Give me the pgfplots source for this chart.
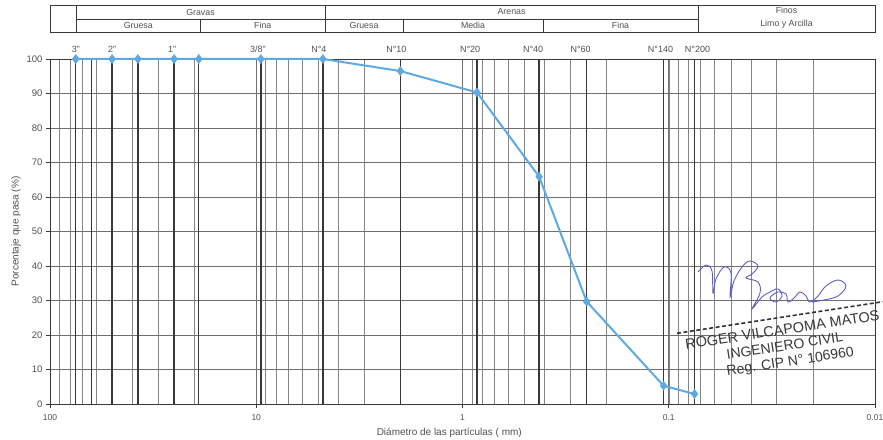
\documentclass[border=0pt]{standalone}
\usepackage{fontspec}
\setmainfont{Liberation Sans}
\usepackage{pgfplots}
\pgfplotsset{compat=1.18}
\definecolor{curve}{HTML}{5DA9E2}
\definecolor{grd}{HTML}{707070}
\definecolor{bold}{HTML}{383838}
\definecolor{txt}{HTML}{505050}
\definecolor{ink}{HTML}{5A5FC8}
\begin{document}
\begin{tikzpicture}[x=1pt,y=1pt]
\useasboundingbox (0,0) rectangle (883,439);
\begin{axis}[
  at={(50pt,35pt)}, anchor=south west,
  scale only axis, width=825pt, height=345pt,
  xmode=log, x dir=reverse, xmin=0.01, xmax=100,
  ymin=0, ymax=100, ytick={0,10,...,100},
  xtick={0.01,0.1,1,10,100}, xticklabels={0.01,0.1,1,10,100},
  xmajorgrids, xminorgrids, ymajorgrids,
  minor x grid style={grd!85, line width=0.5pt},
  major grid style={grd, line width=0.6pt},
  extra x ticks={75,63,50,37.5,25,19,9.5,4.75,2,0.85,0.425,0.25,0.106,0.075},
  extra x tick labels={},
  extra x tick style={grid=major, major grid style={bold, line width=1.4pt}, major tick length=0pt},
  tick pos=left, tick align=outside,
  major tick length=4pt, minor tick length=0pt,
  tick style={bold, line width=0.6pt},
  axis line style={bold, line width=0.9pt},
  /pgf/number format/assume math mode=true,
  yticklabel style={font=\fontsize{9.5}{10}\selectfont, text=txt},
  xticklabel style={font=\fontsize{8.5}{9}\selectfont, text=txt, yshift=-3pt},
  xlabel={Diámetro de las partículas ( mm)},
  ylabel={Porcentaje que pasa (\%)},
  xlabel style={font=\fontsize{10}{12}\selectfont, text=txt, at={(axis description cs:0.484,0)}, anchor=north, yshift=-21pt},
  ylabel style={font=\fontsize{10}{12}\selectfont, text=txt, yshift=-1pt},
  clip=false,
]
\addplot[curve, line width=2pt, mark=diamond*, mark size=4.5pt,
  mark options={fill=curve, draw=curve, line width=0.5pt}] coordinates {
  (75,100) (50,100) (37.5,100) (25,100) (19,100) (9.5,100) (4.75,100)
  (2,96.5) (0.85,90.3) (0.425,65.9) (0.25,29.7) (0.106,5.3) (0.075,2.9)
};
\begin{scope}[every node/.style={font=\fontsize{9}{10}\selectfont, text=txt}]
\node[yshift=10pt] at (axis cs:75,100) {3"};
\node[yshift=10pt] at (axis cs:50,100) {2"};
\node[yshift=10pt, xshift=-2pt] at (axis cs:25,100) {1"};
\node[yshift=10pt, xshift=-3pt] at (axis cs:9.5,100) {3/8"};
\node[yshift=10pt, xshift=-4pt] at (axis cs:4.75,100) {N°4};
\node[yshift=10pt, xshift=-4pt] at (axis cs:2,100) {N°10};
\node[yshift=10pt, xshift=-7pt] at (axis cs:0.85,100) {N°20};
\node[yshift=10pt, xshift=-6pt] at (axis cs:0.425,100) {N°40};
\node[yshift=10pt, xshift=-6pt] at (axis cs:0.25,100) {N°60};
\node[yshift=10pt, xshift=-3pt] at (axis cs:0.106,100) {N°140};
\node[yshift=10pt, xshift=3pt] at (axis cs:0.075,100) {N°200};
\end{scope}
\end{axis}
% header table
\begin{scope}[draw=bold, line width=0.7pt]
\draw (50,407) rectangle (875,434);
\draw (76,407) -- (76,434);
\draw (325,407) -- (325,434);
\draw (698,407) -- (698,434);
\draw (76,420) -- (698,420);
\draw (200.7,407) -- (200.7,420);
\draw (403,407) -- (403,420);
\draw (543,407) -- (543,420);
\end{scope}
\begin{scope}[every node/.style={font=\fontsize{8.8}{9}\selectfont, text=txt, inner sep=0pt}]
\node at (200.5,427) {Gravas};
\node at (138.3,413.5) {Gruesa};
\node at (262.8,413.5) {Fina};
\node at (511.5,427) {Arenas};
\node at (364,413.5) {Gruesa};
\node at (473,413.5) {Media};
\node at (620.5,413.5) {Fina};
\node at (786.5,428.5) {Finos};
\node at (786.5,414.5) {Limo y Arcilla};
\end{scope}
% stamp
\draw[black!80, line width=1.6pt, dash pattern=on 4pt off 2.5pt] (677,105.7) -- (883,137.3);
\node[font=\fontsize{14.5}{17}\selectfont, text=black!78, rotate=8.7, inner sep=0pt, align=center,
  anchor=north] at (781.5,114.5)
  {ROGER VILCAPOMA MATOS\\[-1pt]{\fontsize{14}{17}\selectfont INGENIERO CIVIL}\\[-1pt]{\fontsize{14}{17}\selectfont\hspace*{6pt}Reg. CIP N° 106960}};
\draw[ink, line width=0.9pt] plot[smooth, tension=0.6] coordinates {
 (698,167) (706,174) (712,168) (713,146) (716,160) (724,172) (731,166) (730,142)
 (734,158) (742,172) (750,178) (758,173) (752,165) (746,161) (758,157) (760,146)
 (752,130) (762,142) (770,147) (778,150) (782,143) (776,137) (770,141) (778,147)
 (786,145) (788,137) (794,141) (800,147) (806,143) (810,137) (818,143) (826,153)
 (838,159) (846,153) (838,143) (824,139) (812,137)};
\end{tikzpicture}
\end{document}
